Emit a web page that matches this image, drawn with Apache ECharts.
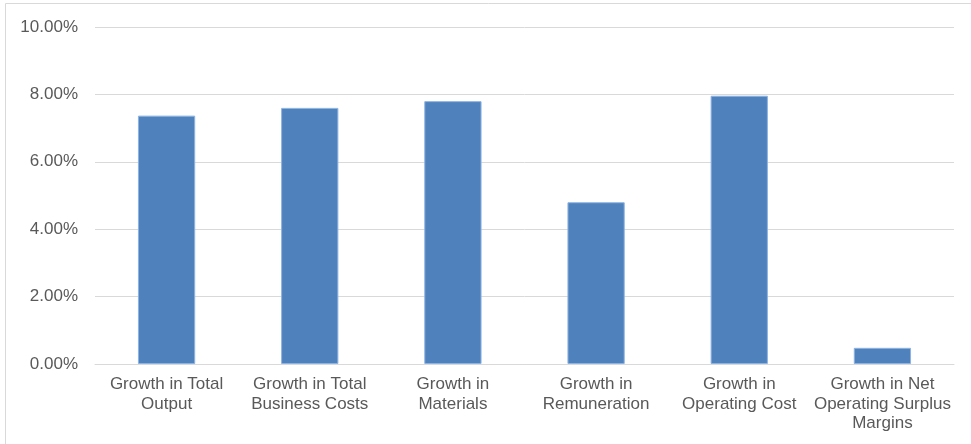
<!DOCTYPE html>
<html>
<head>
<meta charset="utf-8">
<script src="https://cdn.jsdelivr.net/npm/echarts@6/dist/echarts.min.js"></script>
<style>
  html, body { margin: 0; padding: 0; background: #fff; }
  #chart { width: 971px; height: 444px; }
</style>
</head>
<body>
<div id="chart"></div>
<script>
// Growth measures (percent)
const categories = [
  'Growth in Total\nOutput',
  'Growth in Total\nBusiness Costs',
  'Growth in\nMaterials',
  'Growth in\nRemuneration',
  'Growth in\nOperating Cost',
  'Growth in Net\nOperating Surplus\nMargins'
];
const growthValues = [7.37, 7.60, 7.80, 4.80, 7.96, 0.48];
const yMin = 0;
const yMax = 10;
const yStep = 2;

const chart = echarts.init(document.getElementById('chart'), null, { renderer: 'canvas' });

chart.setOption({
  animation: false,
  backgroundColor: '#ffffff',
  textStyle: { fontFamily: 'Liberation Sans, Arial, sans-serif' },
  graphic: [{
    type: 'rect',
    shape: { x: 5.5, y: 3.5, width: 1200, height: 1200 },
    style: { fill: 'none', stroke: '#D9D9D9', lineWidth: 1 },
    silent: true
  }],
  grid: { left: 95, right: 17, top: 27, bottom: 80, containLabel: false },
  xAxis: {
    type: 'category',
    data: categories,
    axisLine: { show: true, lineStyle: { color: '#D9D9D9', width: 1 } },
    axisTick: { show: false },
    axisLabel: {
      color: '#595959',
      fontSize: 17,
      lineHeight: 19.5,
      margin: 11,
      interval: 0,
      align: 'center'
    }
  },
  yAxis: {
    type: 'value',
    min: yMin,
    max: yMax,
    interval: yStep,
    axisLine: { show: false },
    axisTick: { show: false },
    splitLine: { lineStyle: { color: '#D9D9D9', width: 1 } },
    axisLabel: {
      color: '#595959',
      fontSize: 17,
      margin: 17,
      formatter: v => v.toFixed(2) + '%'
    }
  },
  series: [{
    type: 'bar',
    data: growthValues,
    barWidth: '40%',
    itemStyle: {
      color: '#4F81BD',
      borderColor: '#8DB3E2',
      borderWidth: 1
    }
  }]
});
</script>
</body>
</html>
